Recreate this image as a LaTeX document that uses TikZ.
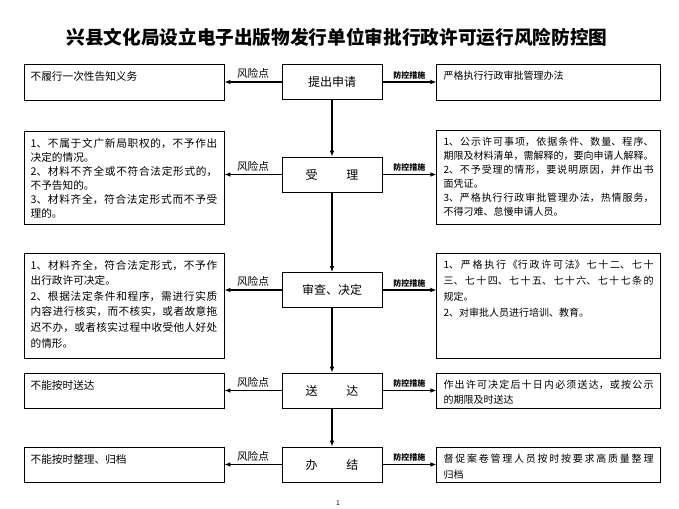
\documentclass[tikz,border=0pt]{standalone}
\usepackage{fontspec}
\setmainfont{Noto Sans CJK SC}
\XeTeXlinebreaklocale "zh"
\XeTeXlinebreakskip=0pt plus 1pt minus 0.2pt
\usetikzlibrary{arrows.meta}
\tikzset{
  stage/.style={draw,line width=0.6pt,minimum width=75pt,minimum height=26.25pt,inner sep=0pt,font=\fontsize{9}{11}\selectfont},
  sidebox/.style={draw,line width=0.6pt,anchor=north,inner xsep=5pt,inner ysep=5pt},
  flow/.style={-{Latex[length=4.5pt,width=3.5pt]},line width=0.8pt},
  risk/.style={above=1pt,font=\fontsize{8}{9}\selectfont,inner sep=1pt},
  guard/.style={above=1pt,font=\fontsize{6}{7}\selectfont\bfseries,inner sep=1pt}
}
\begin{document}
\begin{tikzpicture}[x=0.75pt,y=-0.75pt]
\useasboundingbox (0,0) rectangle (679,508);
\node[font=\fontsize{14}{16}\selectfont\bfseries] (title) at (337,37) {兴县文化局设立电子出版物发行单位审批行政许可运行风险防控图};
% 流程
\foreach \y/\n/\t in {82/s1/提出申请, 174.5/s2/受\hspace{2.4em}理, 290/s3/审查、决定, 390.5/s4/送\hspace{2.4em}达, 464.5/s5/办\hspace{2.4em}结}
  \node[stage] (\n) at (332,\y) {\t};
% 风险点
\foreach \y/\h/\s/\n/\t in {64/36/10.5/r1/{不履行一次性告知义务},
  131/93/10.5/r2/{1、不属于文广新局职权的，不予作出\linebreak 决定的情况。\\2、材料不齐全或不符合法定形式的，\linebreak 不予告知的。\\3、材料齐全，符合法定形式而不予受\linebreak 理的。},
  253/105/11.7/r3/{1、材料齐全，符合法定形式，不予作\linebreak 出行政许可决定。\\2、根据法定条件和程序，需进行实质\linebreak 内容进行核实，而不核实，或者故意拖\linebreak 迟不办，或者核实过程中收受他人好处\linebreak 的情形。},
  373/35/11.25/r4/{不能按时送达},
  447/35/12/r5/{不能按时整理、归档}}
  \node[sidebox,font=\fontsize{8}{\s}\selectfont] (\n) at (124,\y)
    {\parbox[t][\dimexpr\h pt*3/4-10pt\relax][t]{140pt}{\t}};
% 防控措施
\foreach \y/\h/\s/\n/\t in {64/36/10.5/m1/{严格执行行政审批管理办法},
  130/94/10.5/m2/{1、公示许可事项，依据条件、数量、程序、\linebreak 期限及材料清单，需解释的，要向申请人解释。\\2、不予受理的情形，要说明原因，并作出书\linebreak 面凭证。\\3、严格执行行政审批管理办法，热情服务，\linebreak 不得刁难、怠慢申请人员。},
  253/105/12/m3/{1、严格执行《行政许可法》七十二、七十\linebreak 三、七十四、七十五、七十六、七十七条的\linebreak 规定。\\2、对审批人员进行培训、教育。},
  373/35/11.25/m4/{作出许可决定后十日内必须送达，或按公示\linebreak 的期限及时送达},
  447/35/12/m5/{督促案卷管理人员按时按要求高质量整理\linebreak 归档}}
  \node[sidebox,font=\fontsize{7.5}{\s}\selectfont] (\n) at (548.5,\y)
    {\parbox[t][\dimexpr\h pt*3/4-10pt\relax][t]{157.5pt}{\t}};
\foreach \a/\b in {s1/s2, s2/s3, s3/s4, s4/s5}
  \draw[flow] (\a) -- (\b);
\foreach \i in {1,...,5}{
  \draw[flow] (s\i.west) -- (s\i.west -| r\i.east) node[risk,midway] {风险点};
  \draw[flow] (s\i.east) -- (s\i.east -| m\i.west) node[guard,midway] {防控措施};
}
\node[font=\fontsize{5}{6}\selectfont] (page) at (338,503) {1};
\end{tikzpicture}
\end{document}
